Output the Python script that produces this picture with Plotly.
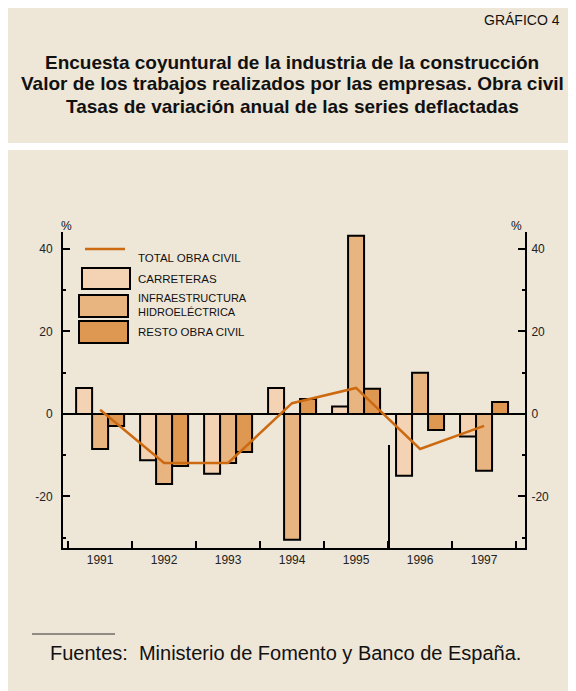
import plotly.graph_objects as go

# Data (annual % change, deflated series)
years = ["1991", "1992", "1993", "1994", "1995", "1996", "1997"]
carreteras = [6.3, -11.2, -14.5, 6.3, 1.8, -15.0, -5.5]
infraestructura = [-8.5, -17.0, -11.9, -30.5, 43.2, 10.0, -13.8]
resto_obra_civil = [-2.9, -12.6, -9.2, 3.6, 6.1, -3.9, 2.9]
total_obra_civil = [1.0, -11.9, -11.9, 2.6, 6.3, -8.5, -2.9]
y_ticks = [-20, 0, 20, 40]
y_minor_ticks = [-30, -10, 10, 30]

# The page body adds an 8px offset, so the figure starts at screen (8, 8)
OFF = 8
W, H = 568, 683
# plot area in screen pixels: x 63..525, y 232..548
L, R, T, B = 63 - OFF, 568 - (525 - OFF), 232 - OFF, 683 - (548 - OFF)
PW, PH = W - L - R, H - T - B

BEIGE = "#EEE6D7"
C_CARR = "#F3D3B4"
C_INFRA = "#E8B480"
C_RESTO = "#DF9852"
C_LINE = "#CC6A12"
FONT = "Liberation Sans, Arial, sans-serif"


def px_x(x):
    # screen x -> paper
    return (x - OFF - L) / PW


def px_y(y):
    # screen y -> paper
    return (H - B - (y - OFF)) / PH


fig = go.Figure()

for name, vals, color in [("CARRETERAS", carreteras, C_CARR),
                          ("INFRAESTRUCTURA HIDROELÉCTRICA", infraestructura, C_INFRA),
                          ("RESTO OBRA CIVIL", resto_obra_civil, C_RESTO)]:
    fig.add_trace(go.Bar(
        x=years, y=vals, name=name,
        marker=dict(color=color, line=dict(color="black", width=2)),
        showlegend=False
    ))

fig.add_trace(go.Scatter(
    x=years, y=total_obra_civil, mode="lines", name="TOTAL OBRA CIVIL",
    line=dict(color=C_LINE, width=2.5), showlegend=False
))

# invisible trace so the right-hand axis is drawn
fig.add_trace(go.Scatter(
    x=years, y=total_obra_civil, yaxis="y2", mode="lines",
    line=dict(width=0), opacity=0, hoverinfo="skip", showlegend=False
))

shapes = []
# beige panels
shapes.append(dict(type="rect", xref="paper", yref="paper", layer="below",
                   x0=px_x(8), x1=px_x(576), y0=px_y(143), y1=px_y(7),
                   fillcolor=BEIGE, line=dict(width=0)))
shapes.append(dict(type="rect", xref="paper", yref="paper", layer="below",
                   x0=px_x(8), x1=px_x(576), y0=px_y(691), y1=px_y(150),
                   fillcolor=BEIGE, line=dict(width=0)))

# legend drawn by hand
shapes.append(dict(type="line", xref="paper", yref="paper",
                   x0=px_x(85), x1=px_x(125), y0=px_y(249), y1=px_y(249),
                   line=dict(color=C_LINE, width=2.5)))
for (x0, x1, y0, y1, color) in [(82, 130, 268, 289, C_CARR),
                                (79, 128, 295, 317, C_INFRA),
                                (79, 128, 321, 343, C_RESTO)]:
    shapes.append(dict(type="rect", xref="paper", yref="paper",
                       x0=px_x(x0), x1=px_x(x1), y0=px_y(y1), y1=px_y(y0),
                       fillcolor=color, line=dict(color="black", width=2)))

# stray vertical rule seen in the original
shapes.append(dict(type="line", xref="paper", yref="paper",
                   x0=px_x(389), x1=px_x(389), y0=px_y(548), y1=px_y(445),
                   line=dict(color="black", width=2)))

# footnote rule
shapes.append(dict(type="line", xref="paper", yref="paper",
                   x0=px_x(32), x1=px_x(115), y0=px_y(634), y1=px_y(634),
                   line=dict(color="#333333", width=1)))

annotations = []


def add_text(text, x, y, size, xanchor="left", bold=False):
    annotations.append(dict(
        text=f"<b>{text}</b>" if bold else text,
        xref="paper", yref="paper", x=px_x(x), y=px_y(y),
        xanchor=xanchor, yanchor="middle", showarrow=False, align="left",
        font=dict(family=FONT, size=size, color="#111111")
    ))


add_text("GRÁFICO 4", 562, 20, 14, xanchor="right")
add_text("Encuesta coyuntural de la industria de la construcción", 292, 62, 19, "center", True)
add_text("Valor de los trabajos realizados por las empresas. Obra civil", 292, 84, 19, "center", True)
add_text("Tasas de variación anual de las series deflactadas", 292, 106, 19, "center", True)

add_text("TOTAL OBRA CIVIL", 136, 258, 11.5)
add_text("CARRETERAS", 136, 279, 11.5)
add_text("INFRAESTRUCTURA<br>HIDROELÉCTRICA", 136, 305, 11)
add_text("RESTO OBRA CIVIL", 136, 332, 11.5)

add_text("%", 66, 226, 12, "center")
add_text("%", 516, 226, 12, "center")

add_text("Fuentes:  Ministerio de Fomento y Banco de España.", 48, 653, 20)

yrange = [-32.5, 44.1]
yaxis_common = dict(
    range=yrange, tickmode="array", tickvals=y_ticks,
    ticktext=[str(v) for v in y_ticks], showgrid=False,
    showline=True, linecolor="black", linewidth=2,
    ticks="inside", ticklen=7, tickwidth=2, tickcolor="black",
    minor=dict(tickmode="array", tickvals=y_minor_ticks, ticks="inside",
               ticklen=3, tickwidth=2, tickcolor="black"),
    tickfont=dict(family=FONT, size=12, color="#222222"),
)

fig.update_layout(
    width=W, height=H,
    margin=dict(l=L, r=R, t=T, b=B),
    paper_bgcolor="white",
    plot_bgcolor="rgba(0,0,0,0)",
    barmode="group", bargap=0.25, bargroupgap=0,
    xaxis=dict(
        type="category", range=[-0.58, 6.64],
        tickson="boundaries", ticks="inside", ticklen=7, tickwidth=2, tickcolor="black",
        showline=True, linecolor="black", linewidth=2, showgrid=False,
        tickfont=dict(family=FONT, size=12, color="#222222"),
    ),
    yaxis=dict(zeroline=True, zerolinecolor="black", zerolinewidth=2,
               ticklabelstandoff=6, **yaxis_common),
    yaxis2=dict(overlaying="y", side="right", zeroline=False,
                ticklabelstandoff=2, **yaxis_common),
    shapes=shapes,
    annotations=annotations,
    showlegend=False,
)

fig.write_html("out.html")
